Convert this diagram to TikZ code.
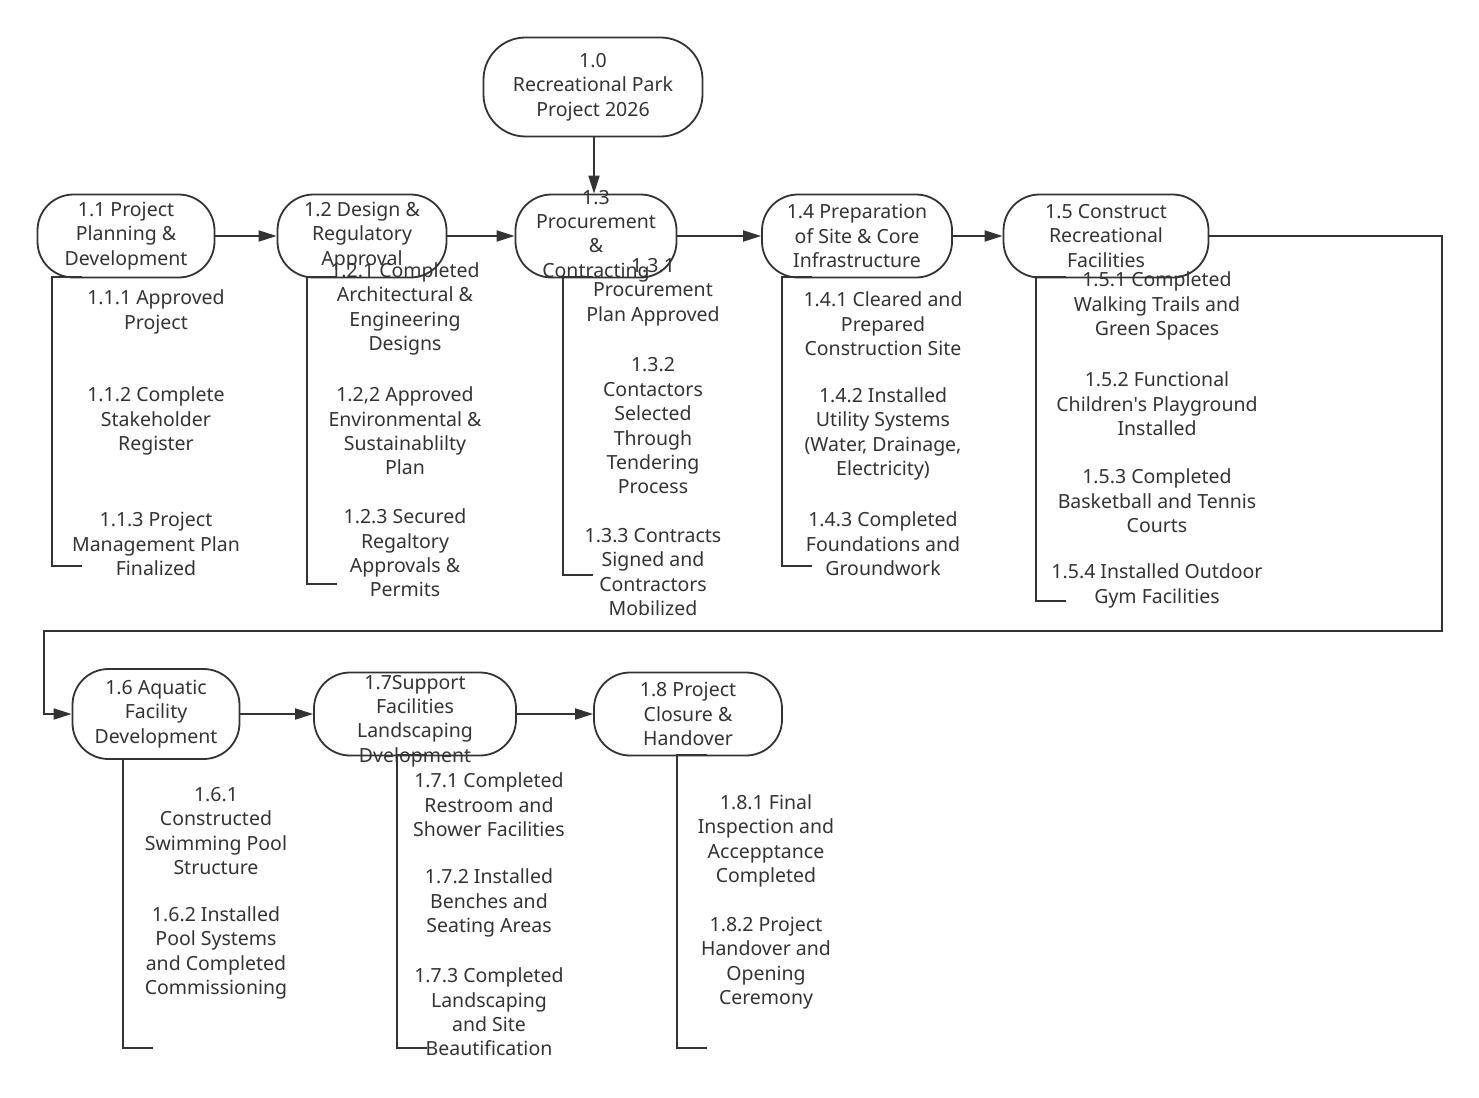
\documentclass[tikz,border=0pt]{standalone}
\usepackage{fontspec}
\setmainfont{Noto Sans}
\usepackage{xcolor}
\usepackage{tikz}
\usetikzlibrary{arrows.meta}
\definecolor{inkgray}{HTML}{333333}

\begin{document}
\begin{tikzpicture}[x=1pt,y=-1pt,
    wbsbox/.style={draw=inkgray, line width=1.8pt, rounded corners=36pt, minimum height=83pt, inner sep=0pt},
    boxtext/.style={align=center, text=inkgray, font=\fontsize{19.5}{24.4}\selectfont},
    itemtext/.style={align=center, text=inkgray, font=\fontsize{19.5}{24.4}\selectfont},
    link/.style={draw=inkgray, line width=1.8pt, -{Triangle[length=18pt,width=11pt]}},
    bracket/.style={draw=inkgray, line width=1.8pt}]
    \useasboundingbox (0,0) rectangle (1479,1097);

    % top level
    \node[wbsbox, minimum width=219pt, minimum height=99pt, rounded corners=42pt] (p10) at (593,87) {};
    \node[boxtext] at (p10) {1.0\\Recreational Park\\Project 2026};

    % first row
    \node[wbsbox, minimum width=177pt] (p11) at (126,236) {};
    \node[boxtext] at (p11) {1.1 Project\\Planning \&\\Development};
    \node[wbsbox, minimum width=169pt] (p12) at (362,236) {};
    \node[boxtext] at (p12) {1.2 Design \&\\Regulatory\\Approval};
    \node[wbsbox, minimum width=161pt] (p13) at (596,236) {};
    \node[boxtext] at (p13) {1.3\\Procurement\\\&\\Contracting};
    \node[wbsbox, minimum width=190pt] (p14) at (857,236) {};
    \node[boxtext] at (p14) {1.4 Preparation\\of Site \& Core\\Infrastructure};
    \node[wbsbox, minimum width=205pt] (p15) at (1106,236) {};
    \node[boxtext] at (p15) {1.5 Construct\\Recreational\\Facilities};

    % second row
    \node[wbsbox, minimum width=167pt, minimum height=90pt] (p16) at (156,714) {};
    \node[boxtext] at (p16) {1.6 Aquatic\\Facility\\Development};
    \node[wbsbox, minimum width=202pt] (p17) at (415,714) {};
    \node[boxtext] at ([yshift=-7pt]p17.center) {1.7Support\\Facilities\\Landscaping\\Dvelopment};
    \node[wbsbox, minimum width=188pt] (p18) at (688,714) {};
    \node[boxtext] at (p18) {1.8 Project\\Closure \&\\Handover};

    % arrows
    \draw[link] (p10.south -| 594,0) -- (p13.north -| 594,0);
    \draw[link] (p11) -- (p12);
    \draw[link] (p12) -- (p13);
    \draw[link] (p13) -- (p14);
    \draw[link] (p14) -- (p15);
    \coordinate (turnA) at (1442,631);
    \coordinate (turnB) at (44,714);
    \draw[link] (p15.east) -| (turnA) -| (turnB) -- (p16.west);
    \draw[link] (p16) -- (p17);
    \draw[link] (p17) -- (p18);

    % brackets under each box
    \foreach \x/\ytop/\ybot in {52/277/566, 307/277/584, 563/277/575, 782/277/566,
        1036/277/601, 123/759/1048, 397/755/1048, 677/755/1048}
        \draw[bracket] (\x+30,\ytop) -- (\x,\ytop) -- (\x,\ybot) -- (\x+30,\ybot);

    % deliverables
    \node[itemtext] (i111) at (156,312) {1.1.1 Approved\\Project};
    \node[itemtext] (i112) at (156,421) {1.1.2 Complete\\Stakeholder\\Register};
    \node[itemtext] (i113) at (156,544) {1.1.3 Project\\Management Plan\\Finalized};

    \node[itemtext] (i121) at (405,309) {1.2.1 Completed\\Architectural \&\\Engineering\\Designs};
    \node[itemtext] (i122) at (405,431) {1.2,2 Approved\\Environmental \&\\Sustainablilty\\Plan};
    \node[itemtext] (i123) at (405,553) {1.2.3 Secured\\Regaltory\\Approvals \&\\Permits};

    \node[itemtext] (i131) at (653,292) {1.3.1\\Procurement\\Plan Approved};
    \node[itemtext] (i132) at (653,426) {1.3.2\\Contactors\\Selected\\Through\\Tendering\\Process};
    \node[itemtext] (i133) at (653,572) {1.3.3 Contracts\\Signed and\\Contractors\\Mobilized};

    \node[itemtext] (i141) at (883,324) {1.4.1 Cleared and\\Prepared\\Construction Site};
    \node[itemtext] (i142) at (883,434) {1.4.2 Installed\\Utility Systems\\(Water, Drainage,\\Electricity)};
    \node[itemtext] (i143) at (883,544) {1.4.3 Completed\\Foundations and\\Groundwork};

    \node[itemtext] (i151) at (1157,306) {1.5.1 Completed\\Walking Trails and\\Green Spaces};
    \node[itemtext] (i152) at (1157,404) {1.5.2 Functional\\Children\textquotesingle s Playground\\Installed};
    \node[itemtext] (i153) at (1157,501) {1.5.3 Completed\\Basketball and Tennis\\Courts};
    \node[itemtext] (i154) at (1157,586) {1.5.4 Installed Outdoor\\Gym Facilities};

    \node[itemtext] (i161) at (216,831) {1.6.1\\Constructed\\Swimming Pool\\Structure};
    \node[itemtext] (i162) at (216,953) {1.6.2 Installed\\Pool Systems\\and Completed\\Commissioning};

    \node[itemtext] (i171) at (489,805) {1.7.1 Completed\\Restroom and\\Shower Facilities};
    \node[itemtext] (i172) at (489,903) {1.7.2 Installed\\Benches and\\Seating Areas};
    \node[itemtext] (i173) at (489,1012) {1.7.3 Completed\\Landscaping\\and Site\\Beautification};

    \node[itemtext] (i181) at (766,841) {1.8.1 Final\\Inspection and\\Accepptance\\Completed};
    \node[itemtext] (i182) at (766,963) {1.8.2 Project\\Handover and\\Opening\\Ceremony};
\end{tikzpicture}
\end{document}
